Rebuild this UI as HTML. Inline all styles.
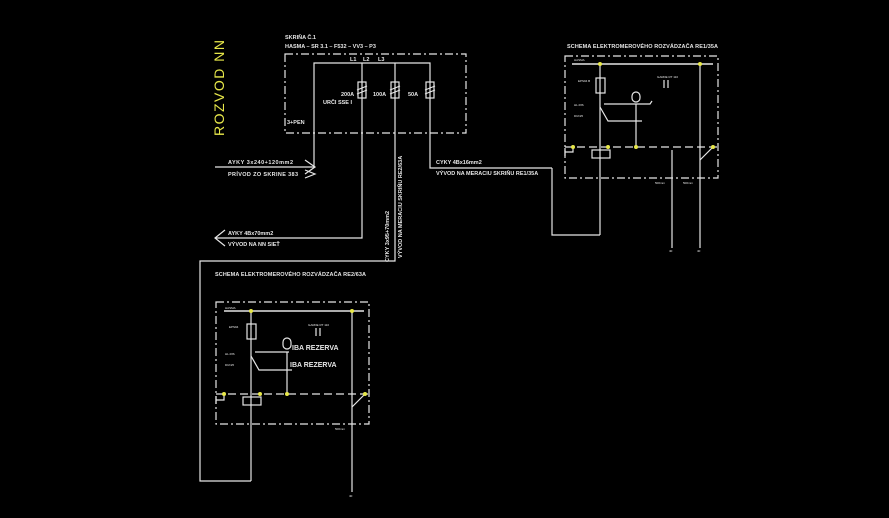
<!DOCTYPE html>
<html><head><meta charset="utf-8"><style>
html,body{margin:0;padding:0;background:#000;width:889px;height:518px;overflow:hidden}
svg{display:block}
text{font-family:"Liberation Sans",sans-serif;fill:#e6e6e6}
</style></head><body>
<svg width="889" height="518" viewBox="0 0 889 518" xmlns="http://www.w3.org/2000/svg">
<rect width="889" height="518" fill="#000"/>
<g stroke="#e6e6e6" fill="none" stroke-width="1.2">
<rect x="285" y="54" width="181" height="79" stroke-dasharray="8,3,2,3"/>
<polyline points="215,167 314,167 314,63 430,63 430,168 552,168"/>
<polyline points="362,63 362,238 215,238"/>
<polyline points="395,63 395,261 200,261 200,481 251,481"/>
<polyline points="552,168 552,235 600,235"/>
<rect x="358" y="82" width="8" height="16"/>
<rect x="391" y="82" width="8" height="16"/>
<rect x="426" y="82" width="8" height="16"/>
<path d="M357,90 l10,-4 M357,94 l10,-4 M390,90 l10,-4 M390,94 l10,-4 M425,90 l10,-4 M425,94 l10,-4"/>
<path d="M305,160 l10,7 l-10,7 M305,170 l10,4 l-10,4"/>
<path d="M225,230 l-10,8 l10,8"/>
<rect x="565" y="56" width="153" height="122" stroke-dasharray="8,3,2,3"/>
<line x1="572" y1="64" x2="713" y2="64" stroke-width="1.5"/>
<line x1="565" y1="147" x2="718" y2="147" stroke-dasharray="8,4"/>
<polyline points="600,64 600,235"/>
<rect x="596" y="78" width="9" height="15"/>
<polyline points="604,104 650,104 652,101"/>
<path d="M600,107 l8,14 h34 M636,104 v43"/>
<rect x="632" y="92" width="8" height="10" rx="4"/>
<path d="M664,80 v8 M668,80 v8"/>
<rect x="592" y="150" width="18" height="8"/>
<line x1="672" y1="150" x2="672" y2="248"/>
<polyline points="700,64 700,248"/>
<line x1="700" y1="160" x2="713" y2="147"/>
<path d="M573,147 v5 h-8 M565,148 v8"/>
<rect x="216" y="302" width="153" height="122" stroke-dasharray="8,3,2,3"/>
<line x1="224" y1="311" x2="364" y2="311" stroke-width="1.5"/>
<line x1="216" y1="394" x2="369" y2="394" stroke-dasharray="8,4"/>
<polyline points="251,311 251,481"/>
<rect x="247" y="324" width="9" height="15"/>
<path d="M255,352 h34 M251,356 l8,14 h33 M287,352 v42"/>
<rect x="283" y="338" width="8" height="11" rx="4"/>
<path d="M316,328 v8 M320,328 v8"/>
<rect x="243" y="397" width="18" height="8"/>
<polyline points="352,311 352,492"/>
<line x1="352" y1="407" x2="365" y2="394"/>
<path d="M224,394 v6 h-8 M216,396 v8"/>
</g>
<g fill="#e8e84a">
<circle cx="600" cy="64" r="2"/><circle cx="700" cy="64" r="2"/>
<circle cx="573" cy="147" r="2"/><circle cx="608" cy="147" r="2"/><circle cx="636" cy="147" r="2"/><circle cx="713" cy="147" r="2"/>
<circle cx="251" cy="311" r="2"/><circle cx="352" cy="311" r="2"/>
<circle cx="224" cy="394" r="2"/><circle cx="260" cy="394" r="2"/><circle cx="287" cy="394" r="2"/><circle cx="365" cy="394" r="2"/>
</g>
<text x="0" y="0" transform="translate(224,136) rotate(-90)" style="fill:#e8e84a;font-size:14px;letter-spacing:1.5px">ROZVOD NN</text>
<g style="font-size:5.5px;font-weight:bold">
<text x="285" y="39">SKRIŇA Č.1</text>
<text x="285" y="48">HASMA – SR 3.1 – F532 – VV3 – P3</text>
<text x="350" y="61">L1</text><text x="363" y="61">L2</text><text x="378" y="61">L3</text>
<text x="341" y="96">200A</text><text x="373" y="96">100A</text><text x="408" y="96">50A</text>
<text x="323" y="104">URČI SSE I</text>
<text x="287" y="124">3+PEN</text>
<text x="228" y="164" textLength="65">AYKY 3x240+120mm2</text>
<text x="228" y="176" textLength="70">PRÍVOD ZO SKRINE 383</text>
<text x="436" y="164">CYKY 4Bx16mm2</text>
<text x="436" y="175">VÝVOD NA MERACIU SKRIŇU RE1/35A</text>
<text x="228" y="235">AYKY 4Bx70mm2</text>
<text x="228" y="246">VÝVOD NA NN SIEŤ</text>
<text transform="translate(389,262) rotate(-90)">CYKY 3x95+70mm2</text>
<text transform="translate(402,258) rotate(-90)">VÝVOD NA MERACIU SKRIŇU RE2/63A</text>
<text x="567" y="48" textLength="151">SCHEMA ELEKTROMEROVÉHO ROZVÁDZAČA RE1/35A</text>
<text x="215" y="276" textLength="151">SCHEMA ELEKTROMEROVÉHO ROZVÁDZAČA RE2/63A</text>
<text x="292" y="350" style="font-size:7px">IBA REZERVA</text>
<text x="290" y="367" style="font-size:7px">IBA REZERVA</text>
</g>
<g style="font-size:3px">
<text x="574" y="61">HASMA</text><text x="225" y="309">HASMA</text>
<text x="578" y="82">EPS94 B</text><text x="229" y="328">EPS94</text>
<text x="657" y="78">GARDE RT 110</text><text x="308" y="326">GARDE RT 110</text>
<text x="574" y="106">HL.RIS</text><text x="574" y="117">DUN/6</text>
<text x="225" y="355">HL.RIS</text><text x="225" y="366">DUN/6</text>
<text x="655" y="184">500mm</text><text x="683" y="184">500mm</text>
<text x="335" y="430">500mm</text>
<text x="669" y="252">40</text><text x="697" y="252">40</text><text x="349" y="497">40</text>
</g>
</svg>
</body></html>
